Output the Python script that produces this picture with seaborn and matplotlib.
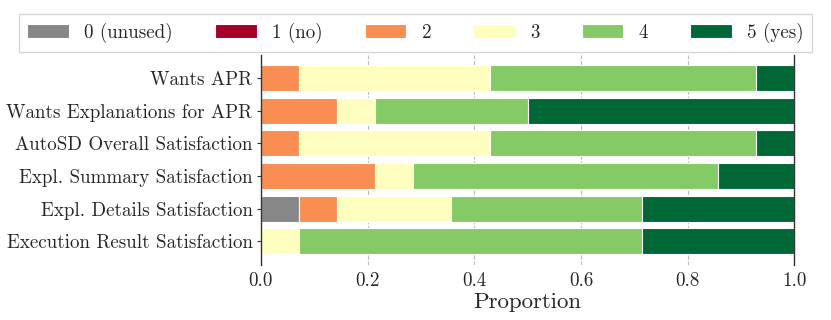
import numpy as np
import pandas as pd
import matplotlib
matplotlib.use("Agg")
import matplotlib.pyplot as plt
import seaborn as sns

questions = [
    "Wants APR",
    "Wants Explanations for APR",
    "AutoSD Overall Satisfaction",
    "Expl. Summary Satisfaction",
    "Expl. Details Satisfaction",
    "Execution Result Satisfaction",
]
levels = ["0 (unused)", "1 (no)", "2", "3", "4", "5 (yes)"]
n_resp = 14
counts_0 = [0, 0, 0, 0, 1, 0]
counts_1 = [0, 0, 0, 0, 0, 0]
counts_2 = [1, 2, 1, 3, 1, 0]
counts_3 = [5, 1, 5, 1, 3, 1]
counts_4 = [7, 4, 7, 8, 5, 9]
counts_5 = [1, 7, 1, 2, 4, 4]
all_counts = [counts_0, counts_1, counts_2, counts_3, counts_4, counts_5]

cmap = plt.get_cmap("RdYlGn")
colors = ["#878787"] + [cmap(v) for v in [0.0, 0.25, 0.5, 0.75, 1.0]]

sns.set_theme(style="white")
plt.rcParams["font.family"] = ["cmr10", "DejaVu Serif"]
plt.rcParams["axes.formatter.use_mathtext"] = True
plt.rcParams["mathtext.fontset"] = "cm"

fig, ax = plt.subplots(figsize=(8.31, 3.2), dpi=100)
fig.subplots_adjust(left=0.314, right=0.956, top=0.828, bottom=0.172)

left = np.zeros(len(questions))
for lvl, cnt, col in zip(levels, all_counts, colors):
    prop = np.array(cnt) / n_resp
    df = pd.DataFrame({"q": questions, "p": prop})
    sns.barplot(data=df, x="p", y="q", orient="y", order=questions,
                left=left.copy(), color=col, saturation=1, width=0.8,
                edgecolor="white", linewidth=0.8, label=lvl, ax=ax)
    left = left + prop

ax.set_xlim(0, 1)
ax.set_ylim(5.72, -0.7)
ax.set_ylabel("")
ax.set_xlabel("Proportion", fontsize=16.5, labelpad=2)
ax.set_xticks([0, 0.2, 0.4, 0.6, 0.8, 1.0])
ax.set_xticklabels(["0.0", "0.2", "0.4", "0.6", "0.8", "1.0"])
ax.tick_params(axis="x", labelsize=13.7, length=0, pad=5)
ax.tick_params(axis="y", labelsize=13.7, length=3, width=0.8, color="#333333", left=True, pad=3)
ax.grid(axis="x", linestyle="--", color="#bbbbbb", linewidth=0.8)
ax.set_axisbelow(True)
for s in ["top", "bottom"]:
    ax.spines[s].set_visible(False)
for s in ["left", "right"]:
    ax.spines[s].set_visible(True)
    ax.spines[s].set_color("#333333")
    ax.spines[s].set_linewidth(1.0)

handles, labels = ax.get_legend_handles_labels()
if ax.get_legend() is not None:
    ax.get_legend().remove()
leg = fig.legend(handles, labels, loc="upper center", bbox_to_anchor=(0.5, 0.985),
                 ncol=6, fontsize=13.7, frameon=True, fancybox=False,
                 handlelength=2.2, handleheight=0.75, handletextpad=0.8,
                 columnspacing=2.2, borderpad=0.45, edgecolor="#cccccc")
leg.get_frame().set_linewidth(1.0)

fig.savefig("out.png", dpi=100)
